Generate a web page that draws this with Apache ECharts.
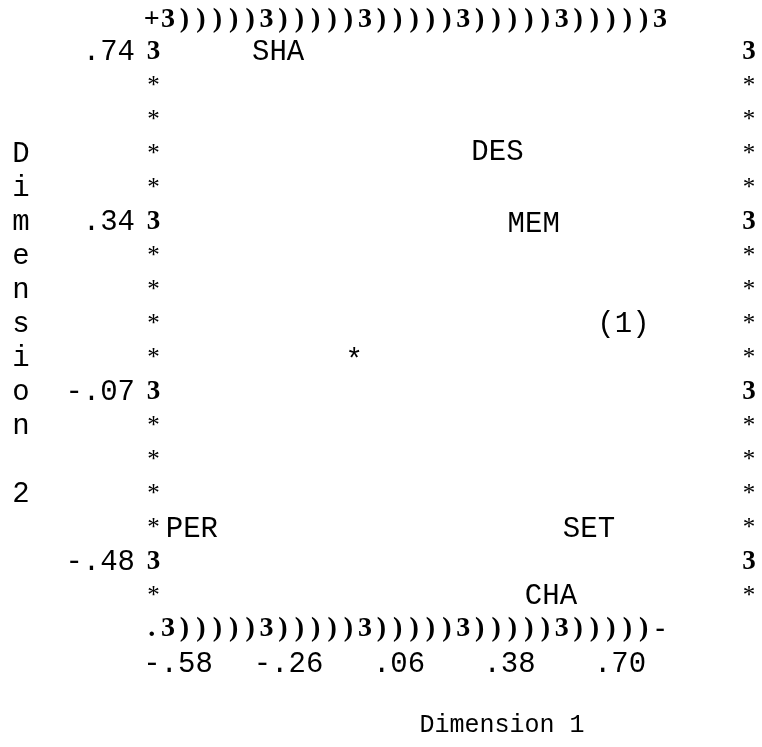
<!DOCTYPE html>
<html>
<head>
<meta charset="utf-8">
<script src="https://cdn.jsdelivr.net/npm/echarts@6/dist/echarts.min.js"></script>
<style>html,body{margin:0;padding:0;background:#fff;}#c{width:762px;height:747px;}</style>
</head>
<body>
<div id="c"></div>
<script>
// ---- data ----
const names = ['SHA', 'DES', 'MEM', '(1)', '*', 'PER', 'SET', 'CHA'];
const dim1 = [-0.29, 0.345, 0.45, 0.71, -0.07, -0.54, 0.61, 0.50];
const dim2 = [0.74, 0.50, 0.33, 0.09, 0.00, -0.40, -0.40, -0.56];
const xTickValues = [-0.58, -0.26, 0.06, 0.38, 0.70];
const xTickLabels = ['-.58', '-.26', '.06', '.38', '.70'];
const yTickValues = [0.74, 0.34, -0.07, -0.48];
const yTickLabels = ['.74', '.34', '-.07', '-.48'];
const xTitle = 'Dimension 1';
const yTitle = 'Dimension 2';
const topFrame = '+' + '3)))))'.repeat(5) + '3';
const bottomFrame = '.' + '3)))))'.repeat(5) + '-';

// ---- frame rows (text plot rows between labelled ticks) ----
const rowsPerTick = 5;
const yTop = yTickValues[0];
const yBot = yTickValues[yTickValues.length - 1];
const nSteps = (yTickValues.length - 1) * rowsPerTick;
const rowStep = (yTop - yBot) / nSteps;
const rowValues = [];
for (let k = 0; k <= nSteps + 1; k++) rowValues.push(+(yTop - k * rowStep).toFixed(6));
function rowIndex(v) { return Math.round((yTop - v) / rowStep); }

const frameFont = 'Liberation Serif';
const monoFont = 'Liberation Mono';

function leftLabel(v) {
  const k = rowIndex(v);
  if (k % rowsPerTick === 0) return '{v|' + yTickLabels[k / rowsPerTick] + '}{f|3}';
  return '{s|*}';
}
function rightLabel(v) {
  const k = rowIndex(v);
  if (k % rowsPerTick === 0) return '{f|3}';
  return '{s|*}';
}
function richLine(str) {
  return str.split('').map(ch => '{c|' + ch + '}').join('');
}

const chart = echarts.init(document.getElementById('c'));
chart.setOption({
  backgroundColor: '#fff',
  animation: false,
  grid: { left: 166, right: 24, top: 18, bottom: 116 },
  xAxis: {
    type: 'value', min: -0.6148, max: 1.0417,
    axisLine: { show: false }, axisTick: { show: false }, splitLine: { show: false },
    axisLabel: {
      customValues: xTickValues,
      margin: 16,
      fontFamily: monoFont, fontSize: 29, color: '#000', lineHeight: 34,
      formatter: function (v) {
        const i = xTickValues.findIndex(t => Math.abs(t - v) < 1e-6);
        return i >= 0 ? xTickLabels[i] : '';
      }
    }
  },
  yAxis: [{
    type: 'value', min: -0.644, max: 0.8225, position: 'left',
    axisLine: { show: false }, axisTick: { show: false }, splitLine: { show: false },
    axisLabel: {
      customValues: rowValues,
      margin: 2, align: 'right',
      formatter: leftLabel,
      rich: {
        v: { fontFamily: monoFont, fontSize: 29, color: '#000', lineHeight: 34, padding: [0, 8, 0, 0] },
        f: { fontFamily: frameFont, fontWeight: 'bold', fontSize: 27, color: '#000', lineHeight: 34, width: 21, align: 'center' },
        s: { fontFamily: frameFont, fontSize: 25, color: '#000', lineHeight: 34, width: 21, align: 'center' }
      }
    }
  }, {
    type: 'value', min: -0.644, max: 0.8225, position: 'right',
    axisLine: { show: false }, axisTick: { show: false }, splitLine: { show: false },
    axisLabel: {
      customValues: rowValues,
      margin: 2, align: 'left',
      formatter: rightLabel,
      rich: {
        f: { fontFamily: frameFont, fontWeight: 'bold', fontSize: 27, color: '#000', lineHeight: 34, width: 18, align: 'center' },
        s: { fontFamily: frameFont, fontSize: 25, color: '#000', lineHeight: 34, width: 18, align: 'center' }
      }
    }
  }],
  series: [{
    type: 'scatter',
    silent: true,
    symbolSize: 1,
    itemStyle: { color: 'transparent', opacity: 1 },
    data: names.map((n, i) => ({ name: n, value: [dim1[i], dim2[i]] })),
    label: {
      show: true, position: 'inside', formatter: '{b}', opacity: 1,
      fontFamily: monoFont, fontSize: 29, color: '#000'
    }
  }],
  graphic: [
    {
      type: 'text', x: 143.5, y: 20, silent: true,
      style: {
        text: richLine(topFrame), verticalAlign: 'middle', align: 'left',
        rich: { c: { fontFamily: frameFont, fontWeight: 'bold', fontSize: 28, fill: '#000', width: 16.4, align: 'center' } }
      }
    },
    {
      type: 'text', x: 143.5, y: 629, silent: true,
      style: {
        text: richLine(bottomFrame), verticalAlign: 'middle', align: 'left',
        rich: { c: { fontFamily: frameFont, fontWeight: 'bold', fontSize: 28, fill: '#000', width: 16.4, align: 'center' } }
      }
    },
    {
      type: 'text', x: 21, y: 324.5, silent: true,
      style: {
        text: yTitle.split('').join('\n'), align: 'center', verticalAlign: 'middle',
        fontFamily: monoFont, fontSize: 29, lineHeight: 34, fill: '#000'
      }
    },
    {
      type: 'text', x: 502, y: 725, silent: true,
      style: {
        text: xTitle, align: 'center', verticalAlign: 'middle',
        fontFamily: monoFont, fontSize: 25, fill: '#000'
      }
    }
  ]
});
</script>
</body>
</html>
